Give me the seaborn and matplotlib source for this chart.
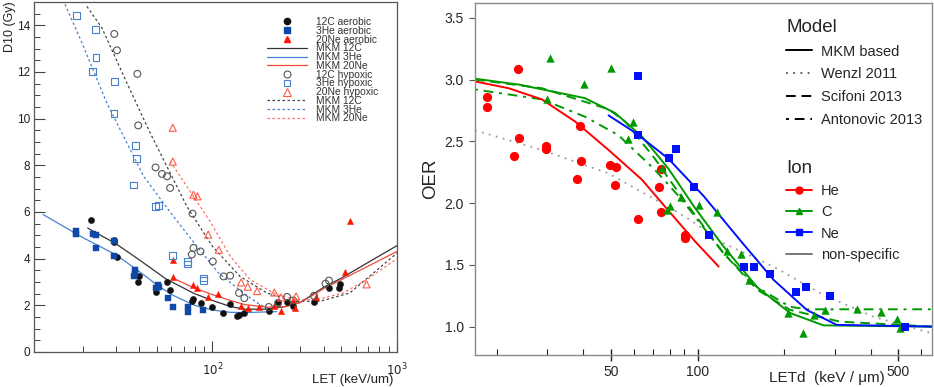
import numpy as np
import pandas as pd
import seaborn as sns
import matplotlib.pyplot as plt
from matplotlib.lines import Line2D
from matplotlib.ticker import FixedLocator, MultipleLocator, NullFormatter

sns.set_style("ticks")
plt.rcParams['font.family'] = ['Liberation Sans', 'DejaVu Sans']

# ---------------- left panel data: D10 vs LET ----------------
c12_aer_x = [22.0, 29.4, 29.2, 30.4, 39.8, 39.3, 49.4, 56.4, 58.9, 77.4, 78.9, 86.2, 99.6, 114.8, 124.7,
             135.6, 139.4, 148.9, 202.4, 227.3, 252.3, 272, 355, 428, 484, 492]
c12_aer_y = [5.64, 4.78, 4.72, 4.07, 3.27, 3.01, 2.57, 2.98, 2.66, 2.17, 2.26, 2.11, 1.95, 1.67, 2.04,
             1.56, 1.57, 1.67, 1.74, 2.16, 2.16, 1.96, 2.16, 2.74, 2.76, 2.93]
he3_aer_x = [18.3, 18.3, 22.5, 23.4, 23.3, 29.3, 29.3, 37.6, 38.3, 38.0, 49.6, 50.6, 51.1, 57.4, 60.8,
             73.3, 73.3, 89.1]
he3_aer_y = [5.17, 5.06, 5.06, 5.0, 4.47, 4.77, 4.13, 3.27, 3.50, 3.39, 2.74, 2.88, 2.79, 2.33, 1.94,
             1.93, 1.70, 1.78]
ne20_aer_x = [60.8, 61, 78.3, 82.4, 94.4, 107.8, 143, 155.4, 178.7, 216.6, 235.5, 274.4, 281, 366, 520, 558]
ne20_aer_y = [3.93, 3.21, 2.87, 2.74, 2.37, 2.50, 1.98, 1.89, 1.91, 1.98, 1.77, 2.21, 1.89, 2.37, 3.41, 5.63]

c12_hyp_x = [29.4, 30.4, 39.2, 39.6, 49.2, 53.3, 56.8, 59, 78, 77.3, 78.9, 86.2, 100.5, 114.8, 124.7,
             139.4, 148.9, 202, 227, 254, 274, 355, 410, 428]
c12_hyp_y = [13.63, 12.93, 11.92, 9.71, 7.91, 7.63, 7.53, 7.03, 5.93, 4.18, 4.46, 4.31, 3.88, 3.24, 3.27,
             2.53, 2.31, 1.93, 2.10, 2.36, 2.21, 2.41, 2.93, 3.06]
he3_hyp_x = [18.3, 23.3, 23.4, 22.4, 29.4, 29.3, 38.4, 38.6, 37.4, 49.0, 51.1, 60.8, 73, 73, 89.1, 89.1]
he3_hyp_y = [14.43, 13.81, 12.61, 12.01, 11.61, 10.21, 8.84, 8.29, 7.16, 6.24, 6.28, 4.13, 3.88, 3.77,
             3.17, 3.06]
ne20_hyp_x = [61, 61, 78.9, 82.9, 94.9, 108.3, 143, 155.4, 174.6, 216.6, 235.5, 284, 684]
ne20_hyp_y = [9.61, 8.16, 6.74, 6.67, 5.03, 4.38, 2.98, 2.80, 2.61, 2.55, 2.34, 2.38, 2.90]

# model curves
mkm_c12_x = [21.1, 30, 40, 56, 80, 100, 125, 150, 200, 250, 300, 400, 500, 1000]
mkm_c12_y = [5.31, 4.64, 3.96, 3.13, 2.50, 2.21, 1.95, 1.83, 1.84, 1.95, 2.13, 2.77, 3.17, 4.56]
mkm_he3_x = [12.1, 20, 30, 40, 50, 60, 80, 100, 125, 150, 200, 223]
mkm_he3_y = [5.89, 4.89, 4.17, 3.46, 2.88, 2.46, 2.00, 1.80, 1.70, 1.69, 1.72, 1.73]
mkm_ne20_x = [61, 80, 100, 125, 150, 200, 250, 300, 400, 500, 1000]
mkm_ne20_y = [3.17, 2.74, 2.46, 2.21, 2.03, 1.92, 1.95, 2.12, 2.71, 3.10, 4.31]
mkm_c12h_x = [20.9, 25.2, 34.4, 46, 61.5, 72.7, 100, 141, 197, 274, 382, 555, 1000]
mkm_c12h_y = [14.81, 13.89, 11.53, 9.39, 7.39, 6.24, 4.53, 3.24, 2.53, 2.17, 2.17, 2.53, 4.24]
mkm_he3h_x = [15.5, 19.3, 26.8, 42.4, 61.5, 82.4, 107.8, 147, 181, 200]
mkm_he3h_y = [15.1, 13.39, 10.67, 7.53, 5.81, 4.53, 3.39, 2.53, 2.03, 1.89]
mkm_ne20h_x = [59, 66, 80, 97, 125, 160, 223, 286, 366, 512, 684, 1000]
mkm_ne20h_y = [8.17, 7.6, 6.6, 5.6, 4.1, 3.1, 2.46, 2.24, 2.24, 2.53, 3.10, 4.0]

left_xticks = [100, 1000]
left_xlabels = ['$10^{2}$', '$10^{3}$']

# ---------------- right panel data: OER vs LETd ----------------
he_x = [18.5, 18.5, 23.7, 23.9, 22.9, 29.7, 29.7, 39, 39.2, 38, 49.6, 51.9, 51.6, 61.8, 74.5, 73.7, 74.5,
        90.6, 90.6]
he_y = [2.857, 2.78, 3.086, 2.527, 2.378, 2.465, 2.438, 2.627, 2.338, 2.195, 2.305, 2.289, 2.146, 1.873,
        2.276, 2.13, 1.924, 1.743, 1.716]
c_x = [30.7, 50, 40.4, 29.9, 59.5, 57.4, 75, 80.2, 78, 87.3, 101.4, 116.6, 126.5, 141.4, 151.6, 207, 232,
       255, 278, 360, 434, 496, 507]
c_y = [3.176, 3.095, 2.965, 2.843, 2.657, 2.519, 2.284, 1.973, 1.946, 2.049, 1.986, 1.927, 1.608, 1.589,
       1.378, 1.108, 0.951, 1.095, 1.135, 1.141, 1.122, 1.059, 0.986]
ne_x = [62, 62, 79.6, 84.2, 96.8, 110, 145.6, 157.7, 178, 220, 239, 288, 527]
ne_y = [3.032, 2.554, 2.365, 2.441, 2.13, 1.738, 1.486, 1.486, 1.427, 1.284, 1.319, 1.251, 0.995]

mkm_he_x = [16.8, 22, 28.7, 37.5, 49, 64, 77.1, 98, 118.4]
mkm_he_y = [2.985, 2.93, 2.84, 2.66, 2.43, 2.19, 1.97, 1.69, 1.486]
mkm_c_x = [16.8, 23.8, 40.5, 51.6, 64, 79.1, 98, 123, 161, 210, 274, 653]
mkm_c_y = [3.007, 2.96, 2.85, 2.73, 2.54, 2.28, 1.96, 1.65, 1.32, 1.11, 1.01, 1.0]
mkm_ne_x = [49, 60.7, 79.1, 98, 104.7, 140.6, 183.6, 240, 305, 653]
mkm_ne_y = [2.71, 2.57, 2.36, 2.13, 2.06, 1.70, 1.38, 1.135, 1.014, 1.0]
wenzl_x = [16.8, 28.7, 49, 75, 94.2, 123, 183.6, 274, 409, 653]
wenzl_y = [2.59, 2.43, 2.24, 2.0, 1.865, 1.676, 1.486, 1.257, 1.08, 0.946]
scifoni_x = [16.8, 28.7, 49, 56, 71, 88, 123, 161, 210, 313, 653]
scifoni_y = [3.0, 2.93, 2.76, 2.66, 2.36, 2.05, 1.595, 1.30, 1.135, 1.04, 1.0]
antonovic_x = [16.8, 28.7, 40.5, 53, 71, 88, 123, 161, 210, 240, 653]
antonovic_y = [2.92, 2.84, 2.70, 2.55, 2.27, 2.03, 1.595, 1.32, 1.16, 1.14, 1.14]

right_xticks = [50, 100, 500]
right_yticks = [1.0, 1.5, 2.0, 2.5, 3.0, 3.5]

# colours
BLK, GRY = '#111111', '#555555'
BLU_D, BLU_L = '#1048a8', '#4682d2'
RED_D, RED_L = '#ff1500', '#ff5a48'
HE_C, C_C, NE_C = '#ff0000', '#009a00', '#0010ff'

fig = plt.figure(figsize=(9.34, 3.87), dpi=100)
axL = fig.add_axes([34 / 934, 35 / 387, 363 / 934, 350 / 387])
axR = fig.add_axes([475 / 934, 32 / 387, 456.7 / 934, 352 / 387])

# ---------------- left panel ----------------
axL.set_xscale('log')
dot = (0, (2, 2))
for x, y, c, ls in [(mkm_c12h_x, mkm_c12h_y, '#444444', dot), (mkm_he3h_x, mkm_he3h_y, BLU_L, dot),
                    (mkm_ne20h_x, mkm_ne20h_y, '#ff7060', dot),
                    (mkm_c12_x, mkm_c12_y, '#333333', '-'), (mkm_he3_x, mkm_he3_y, BLU_L, '-'),
                    (mkm_ne20_x, mkm_ne20_y, '#f04a3a', '-')]:
    sns.lineplot(x=x, y=y, ax=axL, color=c, linestyle=ls, lw=0.9, estimator=None)

for x, y, c, m, s in [(c12_aer_x, c12_aer_y, BLK, 'o', 20), (he3_aer_x, he3_aer_y, BLU_D, 's', 18),
                      (ne20_aer_x, ne20_aer_y, RED_D, '^', 20)]:
    sns.scatterplot(x=x, y=y, ax=axL, color=c, marker=m, s=s, edgecolor=c, linewidth=0.3, zorder=3)
for x, y, c, m, s in [(c12_hyp_x, c12_hyp_y, GRY, 'o', 24), (he3_hyp_x, he3_hyp_y, BLU_L, 's', 24),
                      (ne20_hyp_x, ne20_hyp_y, RED_L, '^', 26)]:
    sns.scatterplot(x=x, y=y, ax=axL, facecolor='none', edgecolor=c, marker=m, s=s, linewidth=0.8, zorder=3)

axL.set_xlim(10.8, 1000)
axL.set_ylim(0, 15)
axL.yaxis.set_major_locator(MultipleLocator(2))
axL.yaxis.set_minor_locator(MultipleLocator(0.5))
axL.xaxis.set_major_locator(FixedLocator(left_xticks))
axL.set_xticklabels(left_xlabels)
axL.xaxis.set_minor_locator(FixedLocator([20, 30, 40, 50, 60, 70, 80, 90, 200, 300, 400, 500, 600, 700, 800, 900]))
axL.xaxis.set_minor_formatter(NullFormatter())
axL.tick_params(which='major', direction='in', length=8, width=0.8, color='#444444', labelsize=8.5,
                labelcolor='#222222')
axL.tick_params(which='minor', direction='in', length=4, width=0.7, color='#444444')
axL.tick_params(axis='x', which='major', pad=7)
axL.tick_params(axis='y', which='major', pad=3)
for sp in axL.spines.values():
    sp.set_color('#555555')
    sp.set_linewidth(0.9)
axL.set_xlabel('')
axL.set_ylabel('')
fig.text(4 / 934, 1 - 1 / 387, 'D10 (Gy)', rotation=90, ha='left', va='top', fontsize=9, color='#222222')
fig.text(393 / 934, 1 - 380 / 387, 'LET (keV/um)', ha='right', va='center', fontsize=9.5, color='#222222')

handlesL = [
    Line2D([], [], ls='none', marker='o', color=BLK, ms=4.5),
    Line2D([], [], ls='none', marker='s', color=BLU_D, ms=4.2),
    Line2D([], [], ls='none', marker='^', color=RED_D, ms=4.5),
    Line2D([], [], color='#333333', lw=0.9),
    Line2D([], [], color=BLU_L, lw=0.9),
    Line2D([], [], color='#f04a3a', lw=0.9),
    Line2D([], [], ls='none', marker='o', mfc='none', mec=GRY, ms=5, mew=0.8),
    Line2D([], [], ls='none', marker='s', mfc='none', mec=BLU_L, ms=5, mew=0.8),
    Line2D([], [], ls='none', marker='^', mfc='none', mec=RED_L, ms=5.5, mew=0.8),
    Line2D([], [], color='#444444', lw=0.9, ls=dot),
    Line2D([], [], color=BLU_L, lw=0.9, ls=dot),
    Line2D([], [], color='#ff7060', lw=0.9, ls=dot),
]
labelsL = ['12C aerobic', '3He aerobic', '20Ne aerobic', 'MKM 12C', 'MKM 3He', 'MKM 20Ne',
           '12C hypoxic', '3He hypoxic', '20Ne hypoxic', 'MKM 12C', 'MKM 3He', 'MKM 20Ne']
legL = axL.legend(handlesL, labelsL, loc='upper left', bbox_to_anchor=(0.642, 0.957), frameon=False,
                  fontsize=7.4, labelspacing=-0.12, handlelength=3.9, handletextpad=0.9, borderpad=0,
                  borderaxespad=0, handleheight=0.7)
for t in legL.get_texts():
    t.set_color('#333333')

# ---------------- right panel ----------------
axR.set_xscale('log')
sns.lineplot(x=wenzl_x, y=wenzl_y, ax=axR, color='#999999', linestyle=(0, (1, 3)), lw=1.3, estimator=None)
sns.lineplot(x=scifoni_x, y=scifoni_y, ax=axR, color=C_C, linestyle=(0, (5, 3)), lw=1.4, estimator=None)
sns.lineplot(x=antonovic_x, y=antonovic_y, ax=axR, color=C_C, linestyle=(0, (1.5, 3, 5, 3)), lw=1.4,
             estimator=None)
sns.lineplot(x=mkm_he_x, y=mkm_he_y, ax=axR, color=HE_C, lw=1.4, estimator=None)
sns.lineplot(x=mkm_c_x, y=mkm_c_y, ax=axR, color=C_C, lw=1.4, estimator=None)
sns.lineplot(x=mkm_ne_x, y=mkm_ne_y, ax=axR, color=NE_C, lw=1.4, estimator=None)

sns.scatterplot(x=he_x, y=he_y, ax=axR, color=HE_C, marker='o', s=44, edgecolor=HE_C, linewidth=0, zorder=3)
sns.scatterplot(x=c_x, y=c_y, ax=axR, color=C_C, marker='^', s=36, edgecolor=C_C, linewidth=0, zorder=3)
sns.scatterplot(x=ne_x, y=ne_y, ax=axR, color=NE_C, marker='s', s=28, edgecolor=NE_C, linewidth=0, zorder=3)

axR.set_xlim(16.8, 653)
axR.set_ylim(0.77, 3.62)
axR.xaxis.set_major_locator(FixedLocator(right_xticks))
axR.set_xticklabels([str(v) for v in right_xticks])
axR.xaxis.set_minor_locator(FixedLocator([20, 30, 40, 60, 70, 80, 90, 200, 300, 400, 600]))
axR.xaxis.set_minor_formatter(NullFormatter())
axR.set_yticks(right_yticks)
axR.set_yticklabels([f'{v:.1f}' for v in right_yticks])
axR.tick_params(axis='x', which='major', direction='inout', length=9, width=1, color='#222222',
                labelsize=10, pad=3)
axR.tick_params(axis='x', which='minor', direction='in', length=4, width=0.8, color='#222222')
axR.tick_params(axis='y', which='major', direction='out', length=4, width=0.8, color='#555555',
                labelsize=10, pad=4)
for sp in axR.spines.values():
    sp.set_color('#8a8a8a')
    sp.set_linewidth(1.0)
axR.set_xlabel('')
axR.set_ylabel('OER', fontsize=13.5, labelpad=4)
fig.text(885 / 934, 1 - 378 / 387, 'LETd  (keV / μm)', ha='right', va='center', fontsize=11)

model_h = [Line2D([], [], color='black', lw=1.4),
           Line2D([], [], color='#555555', lw=1.3, ls=(0, (1, 3))),
           Line2D([], [], color='black', lw=1.4, ls=(0, (5, 3))),
           Line2D([], [], color='black', lw=1.4, ls=(0, (1.5, 3, 5, 3)))]
legM = axR.legend(model_h, ['MKM based', 'Wenzl 2011', 'Scifoni 2013', 'Antonovic 2013'],
                  title='Model', loc='upper left', bbox_to_anchor=(0.681, 0.955), frameon=False,
                  fontsize=10.5, title_fontsize=13.5, alignment='left', handlelength=1.8,
                  handletextpad=0.6, labelspacing=0.6, borderpad=0, borderaxespad=0)
axR.add_artist(legM)
ion_h = [Line2D([], [], color=HE_C, lw=1.4, marker='o', ms=5),
         Line2D([], [], color=C_C, lw=1.4, marker='^', ms=5),
         Line2D([], [], color=NE_C, lw=1.4, marker='s', ms=4.5),
         Line2D([], [], color='#777777', lw=1.4)]
axR.legend(ion_h, ['He', 'C', 'Ne', 'non-specific'], title='Ion', loc='upper left',
           bbox_to_anchor=(0.681, 0.555), frameon=False, fontsize=10.5, title_fontsize=13.5,
           alignment='left', handlelength=1.8, handletextpad=0.6, labelspacing=0.5, borderpad=0,
           borderaxespad=0)

fig.savefig('out.png', dpi=100)
